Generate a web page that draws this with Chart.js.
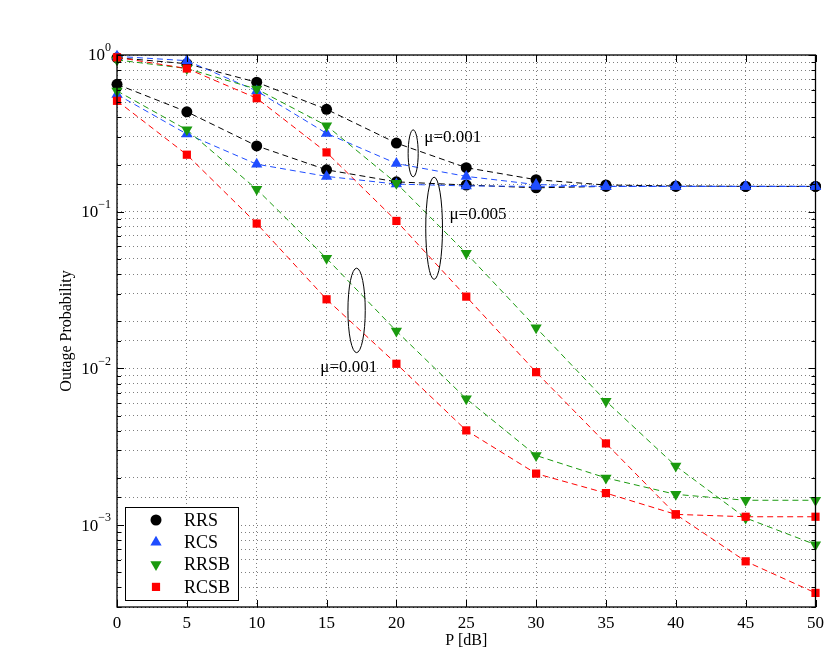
<!DOCTYPE html>
<html>
<head>
<meta charset="utf-8">
<script src="https://cdn.jsdelivr.net/npm/chart.js@4.4.0/dist/chart.umd.min.js"></script>
<style>
html,body{margin:0;padding:0;background:#fff;}
#wrap{width:830px;height:657px;}
</style>
</head>
<body>
<div id="wrap"><canvas id="chart" width="830" height="657"></canvas></div>
<script>
// transmit power, dB
const pdB = [0, 5, 10, 15, 20, 25, 30, 35, 40, 45, 50];

// outage probability
const rrsMu001  = [0.96, 0.88, 0.67, 0.45, 0.274, 0.191, 0.16, 0.148, 0.146, 0.145, 0.145];
const rrsMu005  = [0.65, 0.434, 0.263, 0.185, 0.155, 0.148, 0.142, 0.145, 0.145, 0.145, 0.145];
const rcsMu001  = [0.98, 0.92, 0.59, 0.316, 0.203, 0.168, 0.149, 0.145, 0.145, 0.145, 0.145];
const rcsMu005  = [0.56, 0.313, 0.201, 0.168, 0.15, 0.146, 0.145, 0.145, 0.145, 0.145, 0.145];
const rrsbMu005 = [0.93, 0.82, 0.606, 0.354, 0.152, 0.0543, 0.0182, 0.00618, 0.00238, 0.00111, 0.00075];
const rrsbMu001 = [0.59, 0.333, 0.139, 0.0504, 0.0173, 0.0064, 0.00278, 0.002, 0.00157, 0.00144, 0.00144];
const rcsbMu005 = [0.966, 0.82, 0.53, 0.239, 0.0873, 0.0287, 0.00946, 0.00332, 0.00117, 0.000587, 0.000369];
const rcsbMu001 = [0.51, 0.231, 0.084, 0.0276, 0.0107, 0.00402, 0.00213, 0.0016, 0.00117, 0.00113, 0.00113];

const schemes = ["RRS", "RCS", "RRSB", "RCSB"];
const yTickPowers = [0, -1, -2, -3];

// annotation text + ellipses, in data units
const muLabels = [
    {text: "\u03bc=0.001", x: 22.0, y: 0.299},
    {text: "\u03bc=0.005", x: 23.8, y: 0.0964},
    {text: "\u03bc=0.001", x: 14.55, y: 0.01014}
];
const muEllipses = [
    {x: 21.2, dx: 0.36, top: 0.333, bottom: 0.167},
    {x: 22.7, dx: 0.6, top: 0.166, bottom: 0.037},
    {x: 17.15, dx: 0.62, top: 0.0436, bottom: 0.0126}
];

const FONT = "'Liberation Serif', 'Times New Roman', serif";
const style = {
    RRS:  {color: "#000000", pointStyle: "circle",   radius: 5.5, rotation: 0},
    RCS:  {color: "#1f4dff", pointStyle: "triangle", radius: 6.5, rotation: 0},
    RRSB: {color: "#1a9a0e", pointStyle: "triangle", radius: 6.5, rotation: 180},
    RCSB: {color: "#ff0000", pointStyle: "rect",     radius: 5.8, rotation: 0}
};

let drawOrder = 20;
function series(name, vals){
    const s = style[name];
    return {
        label: name,
        data: pdB.map((x,i)=>({x, y: vals[i]})),
        borderColor: s.color,
        backgroundColor: s.color,
        borderWidth: 1,
        borderDash: [6,4],
        pointStyle: s.pointStyle,
        pointRadius: s.radius,
        pointRotation: s.rotation,
        pointBorderWidth: 0,
        tension: 0,
        clip: false,
        order: drawOrder--   // later series end up on top, like matlab
    };
}

const datasets = [
    series("RRS", rrsMu001), series("RRS", rrsMu005),
    series("RCS", rcsMu001), series("RCS", rcsMu005),
    series("RRSB", rrsbMu005), series("RRSB", rrsbMu001),
    series("RCSB", rcsbMu005), series("RCSB", rcsbMu001)
];

function marker(ctx, name, cx, cy){
    const s = style[name];
    ctx.fillStyle = s.color;
    ctx.beginPath();
    if(s.pointStyle==="circle"){
        ctx.arc(cx, cy, s.radius, 0, Math.PI*2);
    } else if(s.pointStyle==="rect"){
        const h = s.radius*Math.SQRT1_2;
        ctx.rect(cx-h, cy-h, 2*h, 2*h);
    } else {
        const r = s.radius, dir = s.rotation ? 1 : -1;
        ctx.moveTo(cx, cy + dir*r);
        ctx.lineTo(cx - r*0.866, cy - dir*r/2);
        ctx.lineTo(cx + r*0.866, cy - dir*r/2);
        ctx.closePath();
    }
    ctx.fill();
}

const isPow10 = v => Math.abs(Math.log10(v) - Math.round(Math.log10(v))) < 1e-6;

const decorations = {
    id: "decorations",
    afterDraw(chart){
        const {ctx, chartArea: a, scales: {x, y}} = chart;
        ctx.save();
        ctx.strokeStyle = "#000";
        ctx.lineWidth = 1;

        // inward ticks
        ctx.beginPath();
        x.ticks.forEach(t=>{
            const px = Math.round(x.getPixelForValue(t.value)) + 0.5;
            ctx.moveTo(px, a.bottom); ctx.lineTo(px, a.bottom-7);
            ctx.moveTo(px, a.top); ctx.lineTo(px, a.top+7);
        });
        y.ticks.forEach(t=>{
            const py = Math.round(y.getPixelForValue(t.value)) + 0.5;
            const len = isPow10(t.value) ? 7 : 4;
            ctx.moveTo(a.left, py); ctx.lineTo(a.left+len, py);
            ctx.moveTo(a.right, py); ctx.lineTo(a.right-len, py);
        });
        ctx.stroke();

        // box
        ctx.lineWidth = 1.3;
        ctx.strokeRect(a.left, a.top, a.right-a.left, a.bottom-a.top);

        // y tick labels 10^k
        ctx.fillStyle = "#000";
        ctx.textBaseline = "middle";
        yTickPowers.forEach(p=>{
            const py = y.getPixelForValue(Math.pow(10,p));
            const exp = p===0 ? "0" : "\u2212" + (-p);
            ctx.font = "12px " + FONT;
            ctx.textAlign = "left";
            const ew = ctx.measureText(exp).width;
            ctx.fillText(exp, 111 - ew, py - 7);
            ctx.font = "17px " + FONT;
            ctx.textAlign = "right";
            ctx.fillText("10", 111 - ew, py + 1);
        });

        // axis titles
        ctx.font = "16px " + FONT;
        ctx.textAlign = "center";
        ctx.fillText("P [dB]", (a.left+a.right)/2, 641);
        ctx.save();
        ctx.translate(67, (a.top+a.bottom)/2);
        ctx.rotate(-Math.PI/2);
        ctx.fillText("Outage Probability", 0, 0);
        ctx.restore();

        // mu annotations
        ctx.font = "17px " + FONT;
        ctx.textAlign = "left";
        muLabels.forEach(l=>{
            ctx.fillText(l.text, x.getPixelForValue(l.x), y.getPixelForValue(l.y));
        });
        ctx.lineWidth = 1;
        muEllipses.forEach(e=>{
            const cx = x.getPixelForValue(e.x);
            const rx = x.getPixelForValue(e.x + e.dx) - cx;
            const t = y.getPixelForValue(e.top), b = y.getPixelForValue(e.bottom);
            ctx.beginPath();
            ctx.ellipse(cx, (t+b)/2, rx, (b-t)/2, 0, 0, Math.PI*2);
            ctx.stroke();
        });

        // legend box
        const lx = 125, ly = 507, lw = 113, lh = 93;
        ctx.fillStyle = "#fff";
        ctx.fillRect(lx, ly, lw, lh);
        ctx.strokeRect(lx+0.5, ly+0.5, lw, lh);
        ctx.font = "18px " + FONT;
        schemes.forEach((name,i)=>{
            const ry = ly + 13 + i*22.3;
            marker(ctx, name, 156, ry);
            ctx.fillStyle = "#000";
            ctx.fillText(name, 184, ry + 1);
        });
        ctx.restore();
    }
};

new Chart(document.getElementById("chart").getContext("2d"), {
    type: "line",
    data: {datasets},
    options: {
        responsive: false,
        animation: false,
        layout: {padding: {top: 55, right: 13, left: 0, bottom: 0}},
        plugins: {legend: {display: false}, tooltip: {enabled: false}},
        scales: {
            x: {
                type: "linear", min: 0, max: 50,
                afterFit(s){ s.height = 50; },
                ticks: {stepSize: 5, color: "#000", padding: 6, font: {family: FONT, size: 17}},
                grid: {color: "rgba(0,0,0,0.5)", drawTicks: false, lineWidth: 1},
                border: {display: false, dash: [1,3]}
            },
            y: {
                type: "logarithmic", min: 3e-4, max: 1,
                afterFit(s){ s.width = 117; },
                ticks: {autoSkip: false, callback: ()=>"", font: {family: FONT, size: 16}},
                grid: {color: "rgba(0,0,0,0.5)", drawTicks: false, lineWidth: 1},
                border: {display: false, dash: [1,3]}
            }
        }
    },
    plugins: [decorations]
});
</script>
</body>
</html>
